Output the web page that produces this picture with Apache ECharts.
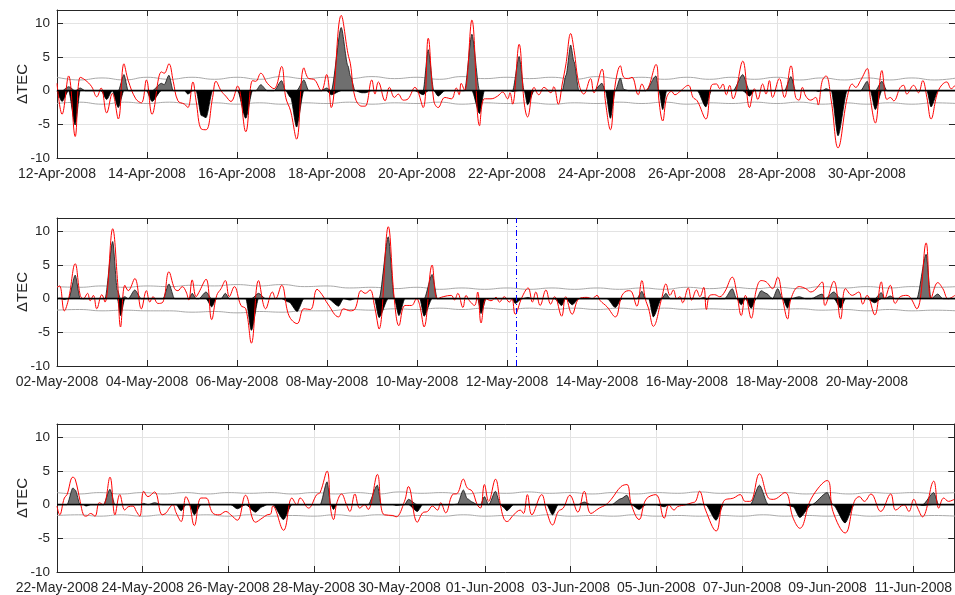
<!DOCTYPE html>
<html>
<head>
<meta charset="utf-8">
<title>ΔTEC</title>
<script src="https://cdn.jsdelivr.net/npm/echarts@6/dist/echarts.min.js"></script>
<style>
  html, body { margin: 0; padding: 0; background: #fff; }
  #main { width: 955px; height: 595px; }
</style>
</head>
<body>
<div id="main"></div>
<script>
// ---- Tick labels (one every 48 h) ----
const xLabels1 = ['12-Apr-2008','14-Apr-2008','16-Apr-2008','18-Apr-2008','20-Apr-2008','22-Apr-2008','24-Apr-2008','26-Apr-2008','28-Apr-2008','30-Apr-2008'];
const xLabels2 = ['02-May-2008','04-May-2008','06-May-2008','08-May-2008','10-May-2008','12-May-2008','14-May-2008','16-May-2008','18-May-2008','20-May-2008'];
const xLabels3 = ['22-May-2008','24-May-2008','26-May-2008','28-May-2008','30-May-2008','01-Jun-2008','03-Jun-2008','05-Jun-2008','07-Jun-2008','09-Jun-2008','11-Jun-2008'];
const yTicks = [-10, -5, 0, 5, 10];

// ---- Hours covered by each window (from its first midnight) ----
const spanHours = [479, 479, 503];

// ---- Vertical marker in the second window (hours since 02-May 00:00) ----
const eventHour = 245;

// ---- ΔTEC series: [hours since window start, ΔTEC] ----
const p1Red = [
[0,1.1],[2.7,-3.5],[6.2,2.2],[9.7,-6.8],[12.4,2.0],[15,1.6],[18.5,0.6],[21.2,-0.9],[23.5,0.4],[26.5,-3.3],[29.5,-0.4],[32.7,-4.2],[35.7,4.0],[38,1.5],[42,-1.2],[45,-1.8],[47.7,1.6],[50.7,-3.5],[55.7,2.8],[57.2,2.6],[59.7,4.0],[62,1.4],[64.5,-1.5],[68,-2.0],[69.8,-2.5],[72.5,1.3],[74.2,-1.5],[77,-5.7],[79.5,-5.8],[83,-1.0],[84.8,1.4],[87.5,0],[90,-0.8],[92.8,-1.6],[96.3,0.7],[100.7,-6.1],[104.3,1.5],[106,1.4],[108.7,2.6],[112.2,1.1],[115.8,0.3],[119.8,3.6],[122,-1.0],[124.6,-3.0],[127.8,-7.2],[131.7,3.4],[134.3,1.8],[137,1.7],[141,0],[143.8,2.4],[146.3,-2.5],[151.6,11.2],[155.2,5.5],[156.5,4.0],[159,-1.0],[162.6,-2.3],[164.4,-2.3],[167.9,1.6],[169.6,-0.5],[171.4,1.3],[175,-1.5],[177.3,0.5],[180,-1.0],[182,-0.5],[184.7,-1.4],[187.3,-1.2],[190.9,0.5],[195.3,-2.5],[198,7.8],[201,-1.5],[203.3,-2.5],[206.9,-1.0],[210.4,-1.2],[213,0.4],[214.5,-0.6],[215.6,1.1],[217.4,0],[221.3,10.5],[225.4,-5.2],[228,-1.2],[231.5,-1.2],[235,-0.8],[237.7,-0.2],[240.4,-1.2],[241.6,-0.3],[243,-2.0],[246.5,6.9],[249.2,-1.8],[251,-3.9],[254.5,0.5],[257,-0.6],[259.8,0.5],[263.4,-0.3],[265,0.6],[267.4,-2.0],[269.5,1.0],[271.5,4.0],[274,8.5],[275.8,6.0],[278.4,1.0],[281,-0.5],[284.6,1.8],[286.4,-0.3],[290.7,3.2],[292.5,-1.5],[295.2,-5.8],[297.8,1.0],[300.5,3.7],[302.3,2.0],[304.9,1.8],[306.7,2.0],[310,-0.6],[312,1.0],[314,0],[319.5,3.9],[321.1,-1.5],[323.1,-4.5],[325.2,-1.0],[327.8,-0.1],[329.6,-0.6],[332.3,-0.1],[336.7,0.8],[339.3,-1.0],[341.5,-1.5],[346.1,-4.2],[349.1,0.8],[351.8,1.0],[353.5,0.3],[355.2,1.0],[357,-0.6],[358.8,0.8],[360.6,-1.2],[365.8,4.4],[369.4,-2.5],[372,0.3],[373.8,-1.3],[376.4,1.0],[378.2,-0.5],[380,1.5],[381.7,-1.0],[385.3,1.8],[388,-1.0],[391.5,3.7],[394,-1.0],[395.8,-1.4],[397.6,0.5],[399.4,-0.8],[402,-1.4],[404.7,-1.0],[406,-2.1],[408.2,1.5],[410.2,2.2],[413,-1.5],[416.6,-8.5],[421.5,-1.0],[424.2,1.0],[426,0.5],[428.6,1.5],[432.2,3.3],[433.8,-1.0],[436.5,-4.8],[440,3.0],[442.7,-1.3],[444.5,-1.0],[446.3,-1.5],[449.8,0.5],[451.6,0.8],[453.3,-0.5],[456.9,0.8],[459.5,-0.3],[461.8,1.5],[464,-1.0],[466.2,-4.2],[470.1,0],[474.6,1.3],[477,0.3],[479,0.8]
];
const p2Red = [
[0,1.7],[1.4,1.9],[3.9,-1.8],[6.2,0],[9.7,5.2],[12.4,0.5],[14.1,0],[16.3,0.8],[17.7,-0.3],[19.4,0.5],[21.2,-1.5],[23.9,0.6],[25.6,-0.5],[29.7,10.4],[32.2,3.0],[33.9,-4.2],[36.2,2.0],[38,1.2],[41.5,3.0],[45,-1.5],[47.7,1.2],[49.5,-0.5],[51.2,0.3],[53.9,-0.7],[56.5,-0.5],[59.7,4.0],[62.7,1.5],[64.5,1.2],[66.8,1.8],[68.9,1.0],[70.3,-0.2],[72.1,2.8],[74.2,0.3],[75.6,0.9],[79.5,2.9],[82.5,-3.1],[85.2,0.5],[87.5,1.5],[89.8,2.7],[91.9,0.3],[94.6,1.8],[98.1,-1.0],[100.7,-1.5],[103.7,-6.6],[107.5,2.7],[111.3,-1.5],[114.9,1.0],[116.6,0],[119.8,2.0],[123.7,-2.5],[128.1,-3.7],[131.7,-1.5],[135.2,-1.6],[138.7,1.4],[141.4,0.6],[144.5,-0.8],[150.2,-2.7],[152.8,-1.5],[156.4,-1.8],[159,-1.5],[162.2,1.2],[164.4,0.8],[167,1.3],[169.3,-1.0],[171.8,-4.5],[176.7,10.7],[179.9,0],[182.4,-4.0],[185.6,-1.0],[189.1,-1.0],[191.8,0],[193.5,-1.0],[195.8,-4.2],[200.1,5.0],[202.9,0],[206,0.3],[210.3,0.5],[212,-0.2],[213.8,0.8],[216.5,-1.3],[218.2,0.5],[220,-0.3],[222.7,-1.0],[224.4,1.0],[226.2,-3.6],[228.9,0],[231.5,-0.3],[234.2,0.2],[236,-0.5],[238.6,0.3],[241.3,-0.5],[242.7,0],[244.4,-2.3],[248,0.2],[251.3,1.6],[253.6,-0.5],[255.4,1.0],[257.7,-1.0],[260.8,1.3],[263.3,-0.8],[265.4,0.3],[269.2,-2.6],[271.3,0.3],[274.8,-2.3],[278.4,0],[282.8,0.2],[285.4,0],[288,0.5],[289.8,-0.3],[293.4,-1.2],[297.8,-2.7],[301.4,0.5],[304.9,1.2],[306.6,1.0],[309.3,-1.1],[312,2.7],[313.8,0],[315.6,-1.5],[318.1,-4.1],[322.5,0],[324.8,2.2],[327,0.5],[328.8,1.3],[330.6,0],[332.3,0.3],[333.7,-0.6],[336.7,1.6],[338.5,-0.2],[341.1,1.3],[342.9,0.3],[345,1.7],[346.4,-1.6],[348.2,0.5],[350.8,0.6],[353.5,0.3],[356.1,1.0],[360.2,3.2],[362.5,1.0],[365,-2.5],[367.2,0.5],[370.3,-2.9],[373,1.3],[375.6,2.7],[378.3,2.5],[381.7,1.5],[384.4,3.2],[387,0],[389.7,-3.0],[391.5,0],[395.9,1.8],[399.4,1.5],[402.1,1.0],[408.2,2.5],[409.6,-1.0],[414.4,2.6],[418,-3.0],[420.6,1.5],[424.2,0.5],[427.7,1.0],[429.8,-0.8],[432.1,0.5],[436.2,-2.4],[439.7,2.5],[441.5,0],[444.5,2.0],[447.1,-0.7],[449.8,0.3],[453.4,0.5],[458.6,-1.5],[463.6,8.3],[466.2,0],[469.8,2.4],[472.5,1.5],[475.4,0],[479,0.5]
];
const p3Red = [
[0,-0.2],[1.5,-1.5],[4.1,1.0],[5.6,1.5],[8.9,4.1],[10.2,3.8],[13,0.5],[14.8,-1.5],[16.3,-1.7],[18.9,-1.3],[21.3,-1.7],[23.7,0.3],[26,0],[29.7,4.1],[32.5,-1.5],[35.2,1.5],[38,-0.8],[39.9,-0.3],[42.6,-0.2],[44.5,-1.0],[46.4,-1.7],[48.6,2.0],[51,1.2],[54.7,1.9],[59,-1.5],[61.2,-1.2],[63,-0.5],[64.9,0],[66.8,-1.2],[69.6,-2.5],[72.3,1.2],[74.2,0.2],[77,-3.1],[80.7,1.0],[83.5,1.0],[87.2,-1.2],[90.9,-1.5],[94.6,-1.0],[97.4,-1.5],[101.1,-2.3],[105.7,1.4],[111.3,-2.6],[115,-2.0],[117.8,-1.5],[119.7,-1.4],[121,-0.2],[127,-3.8],[131.7,1.0],[134.5,0],[136.3,1.0],[141,-0.5],[145.6,1.5],[147.5,1.8],[151.4,5.0],[153.5,-0.8],[155,-2.2],[156.9,0.3],[159.5,1.6],[162.3,0],[164.2,-1.0],[167,1.6],[169.7,-0.5],[172.5,0],[174.4,-0.7],[179.6,4.5],[181.8,-0.5],[183.6,-1.5],[188.3,-1.6],[190.1,-1.8],[194.8,0.5],[197,2.7],[202,-2.6],[205,-1.2],[207.7,-1.0],[210.5,-0.2],[213.3,-0.8],[215.1,0.3],[217.9,-1.2],[221.7,1.5],[224.5,1.7],[227.8,3.8],[230,2.5],[232.8,2.0],[235.6,0],[237.4,-0.5],[239.6,3.0],[242,0.5],[245.8,3.8],[248.6,0],[250.4,-2.0],[252.2,-2.5],[256,-1.5],[259.7,-0.8],[261.5,-1.3],[263.7,1.5],[266.2,-1.5],[271.7,1.5],[274.5,-1.0],[277.8,-3.0],[281,-1.0],[283.8,-0.5],[287.5,1.4],[292,-1.1],[295.6,2.0],[299.3,-1.3],[304,-0.5],[307.7,0],[310.7,0.8],[316.2,2.7],[319.5,3.0],[322,0],[326.3,-2.2],[330.2,0.8],[335.7,1.5],[340.4,-2.0],[343.1,0],[345.9,-0.8],[347.8,-0.3],[352.4,0],[356.1,0.3],[358,0.5],[360.2,2.0],[363.6,-0.8],[369.5,-3.9],[373.7,0.5],[379.3,1.0],[383,1.5],[385.8,0.5],[388.6,0.5],[393.8,4.6],[398.8,1.0],[401.6,0.8],[408.1,1.8],[412.7,-2.0],[416.4,-3.5],[423,1.0],[431.8,3.6],[435,-1.0],[441.8,-4.2],[447,0.5],[449.8,1.2],[452.6,0.5],[456.3,1.6],[461.8,-1.0],[467.4,1.6],[470.2,-0.8],[474.8,0],[477.6,-1.0],[480.3,0.8],[482.5,-0.5],[485.2,-1.8],[491.5,3.5],[494.3,-0.5],[497.1,1.0],[499.8,0.5],[503,0.8]
];

// ---- Upper / lower bounds, one value every 12 h ----
const p1Upper = [2.0,1.6,1.9,1.6,2.0,1.7,2.0,1.7,2.0,1.7,2.1,1.8,2.0,1.8,2.1,1.8,2.0,1.7,2.1,1.8,2.0,1.8,2.0,1.7,2.1,1.8,2.0,1.7,2.0,1.7,2.0,1.7,2.0,1.6,1.9,1.6,1.9,1.6,1.9,1.6,1.9];
const p1Lower = [-1.9,-1.7,-2.0,-1.7,-1.9,-1.7,-2.0,-1.8,-2.0,-1.8,-2.0,-1.8,-1.9,-1.7,-2.0,-1.8,-1.9,-1.7,-2.0,-1.8,-1.9,-1.8,-2.0,-1.8,-1.9,-1.7,-1.9,-1.7,-2.0,-1.8,-1.9,-1.7,-1.9,-1.7,-2.0,-1.8,-2.0,-1.8,-2.0,-1.8,-1.9];
const p2Upper = [1.8,1.7,1.9,1.7,1.9,1.8,2.0,1.9,2.1,1.9,2.1,1.8,1.9,1.6,1.7,1.5,1.7,1.4,1.6,1.4,1.6,1.4,1.6,1.4,1.6,1.4,1.6,1.4,1.7,1.5,1.7,1.5,1.7,1.5,1.8,1.6,1.8,1.6,1.8,1.7,1.8];
const p2Lower = [-1.7,-1.6,-1.8,-1.7,-1.8,-1.8,-2.0,-1.9,-2.1,-1.9,-2.0,-1.8,-1.8,-1.6,-1.7,-1.5,-1.6,-1.4,-1.6,-1.4,-1.6,-1.4,-1.6,-1.4,-1.6,-1.4,-1.6,-1.4,-1.6,-1.5,-1.6,-1.5,-1.6,-1.5,-1.7,-1.6,-1.8,-1.6,-1.8,-1.7,-1.8];
const p3Upper = [1.8,1.6,1.8,1.6,1.8,1.6,1.8,1.6,1.8,1.7,1.8,1.6,1.8,1.6,1.8,1.6,1.9,1.7,1.8,1.6,1.8,1.7,1.9,1.7,1.8,1.6,1.8,1.6,1.8,1.7,1.9,1.7,1.8,1.7,1.8,1.6,1.8,1.6,1.8,1.7,1.8,1.7,1.8];
const p3Lower = [-1.6,-1.5,-1.7,-1.5,-1.7,-1.5,-1.6,-1.5,-1.7,-1.5,-1.7,-1.6,-1.7,-1.5,-1.7,-1.5,-1.7,-1.6,-1.7,-1.5,-1.7,-1.6,-1.7,-1.5,-1.7,-1.6,-1.7,-1.5,-1.7,-1.6,-1.7,-1.6,-1.7,-1.5,-1.7,-1.6,-1.7,-1.5,-1.7,-1.6,-1.7,-1.6,-1.7];

// ---- Layout of the three stacked axes ----
const panels = [
  { red: p1Red, upper: p1Upper, lower: p1Lower, labels: xLabels1, span: spanHours[0], top: 10,  height: 148, marker: null },
  { red: p2Red, upper: p2Upper, lower: p2Lower, labels: xLabels2, span: spanHours[1], top: 218, height: 148, marker: eventHour },
  { red: p3Red, upper: p3Upper, lower: p3Lower, labels: xLabels3, span: spanHours[2], top: 424, height: 149, marker: null }
];

const FONT = "'Liberation Sans', Arial, Helvetica, sans-serif";
const INK = '#262626';
const GRIDLINE = '#e3e3e3';

// bound value nearest to a given hour (bounds are sampled every 12 h)
function boundAt(arr, h) {
  const k = Math.min(arr.length - 1, Math.max(0, Math.round(h / 12)));
  return arr[k];
}

const grid = [], xAxis = [], yAxis = [], series = [];

panels.forEach((p, i) => {
  grid.push({ left: 57, width: 903, top: p.top, height: p.height, containLabel: false });

  const xBase = {
    gridIndex: i, type: 'value', min: 0, max: p.span, interval: 48,
    axisLine: { show: true, onZero: false, lineStyle: { color: INK, width: 1 } },
    axisTick: { show: true, inside: true, length: 6, lineStyle: { color: INK } }
  };
  xAxis.push(Object.assign({}, xBase, {
    position: 'bottom',
    splitLine: { show: true, lineStyle: { color: GRIDLINE, width: 1 } },
    axisLabel: {
      show: true, margin: 9, color: INK, fontFamily: FONT, fontSize: 14,
      showMaxLabel: false,
      formatter: v => {
        const k = v / 48;
        return (Number.isInteger(k) && k < p.labels.length) ? p.labels[k] : '';
      }
    }
  }));
  xAxis.push(Object.assign({}, xBase, {
    position: 'top', splitLine: { show: false }, axisLabel: { show: false }
  }));

  const yBase = {
    gridIndex: i, type: 'value', min: -10, max: 12, interval: 5,
    axisLine: { show: true, onZero: false, lineStyle: { color: INK, width: 1 } },
    axisTick: { show: true, inside: true, length: 6, lineStyle: { color: INK } }
  };
  yAxis.push(Object.assign({}, yBase, {
    position: 'left',
    name: 'ΔTEC', nameLocation: 'middle', nameGap: 27, nameRotate: 90,
    nameMoveOverlap: false,
    nameTextStyle: { color: INK, fontFamily: FONT, fontSize: 15 },
    splitLine: { show: true, lineStyle: { color: GRIDLINE, width: 1 } },
    axisLabel: {
      show: true, margin: 7, color: INK, fontFamily: FONT, fontSize: 13.5,
      formatter: v => (yTicks.indexOf(v) >= 0 ? String(v) : '')
    }
  }));
  yAxis.push(Object.assign({}, yBase, {
    position: 'right', splitLine: { show: false }, axisLabel: { show: false }
  }));

  const xi = 2 * i, yi = 2 * i;

  // excess beyond the bounds, drawn from the zero line
  const posFill = p.red.map(([h, v]) => [h, Math.max(0, v - boundAt(p.upper, h))]);
  const negFill = p.red.map(([h, v]) => [h, Math.min(0, v - boundAt(p.lower, h))]);

  const boundStyle = { color: '#a8a8a8', width: 1 };
  series.push({
    type: 'line', xAxisIndex: xi, yAxisIndex: yi, data: p.upper.map((v, k) => [k * 12, v]),
    showSymbol: false, smooth: 0.5, lineStyle: boundStyle, silent: true, z: 2
  });
  series.push({
    type: 'line', xAxisIndex: xi, yAxisIndex: yi, data: p.lower.map((v, k) => [k * 12, v]),
    showSymbol: false, smooth: 0.5, lineStyle: boundStyle, silent: true, z: 2
  });
  series.push({
    type: 'line', xAxisIndex: xi, yAxisIndex: yi, data: posFill,
    showSymbol: false, smooth: 0.25, smoothMonotone: 'x',
    lineStyle: { color: '#111', width: 0.8 },
    areaStyle: { color: '#6f6f6f', opacity: 1, origin: 0 }, silent: true, z: 3
  });
  series.push({
    type: 'line', xAxisIndex: xi, yAxisIndex: yi, data: negFill,
    showSymbol: false, smooth: 0.25, smoothMonotone: 'x',
    lineStyle: { color: '#000', width: 0.8 },
    areaStyle: { color: '#000', opacity: 1, origin: 0 }, silent: true, z: 3
  });

  const marks = [{ yAxis: 0, lineStyle: { color: '#000', width: 1.4, type: 'solid' } }];
  if (p.marker !== null) {
    marks.push({ xAxis: p.marker, lineStyle: { color: '#0000ff', width: 1, type: [6, 3, 1, 3] } });
  }
  series.push({
    type: 'line', xAxisIndex: xi, yAxisIndex: yi, data: p.red,
    showSymbol: false, smooth: 0.4,
    lineStyle: { color: '#ff0000', width: 1 }, silent: true, z: 4,
    markLine: { silent: true, symbol: 'none', label: { show: false }, animation: false, data: marks }
  });
});

const chart = echarts.init(document.getElementById('main'), null, { renderer: 'canvas' });
chart.setOption({
  backgroundColor: '#ffffff',
  animation: false,
  grid, xAxis, yAxis, series
});
</script>
</body>
</html>
